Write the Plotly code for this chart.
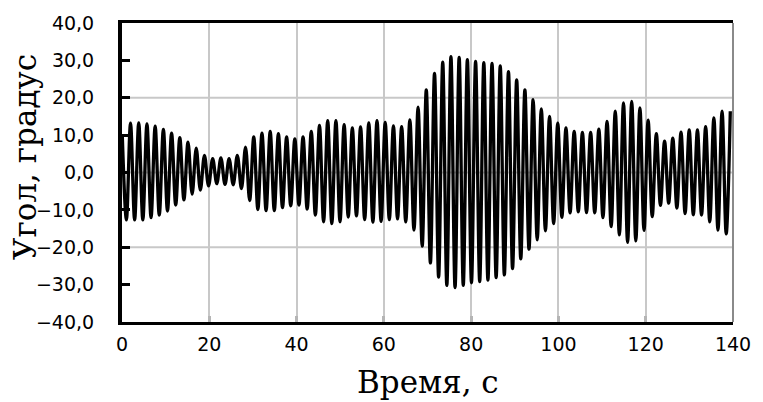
import plotly.graph_objects as go

# ---- data -------------------------------------------------------------
period = 1.8826          # s, oscillation period
first_peak_time = 1.95   # s, time of first full positive peak
lead_value = 10.0        # value of the partial peak at the very start

peak_vals = [
    13.2, 13.3, 13.0, 12.4, 11.5, 10.5, 9.3, 8.1, 6.5, 4.6, 3.7, 3.9, 3.7, 4.6, 6.8, 9.5, 10.5, 11.0, 10.4, 9.5, 9.0, 9.5, 11.0, 12.6,
    13.9, 13.9, 12.8, 11.9, 12.2, 13.3, 13.9, 13.4, 12.5, 12.3, 14.1, 17.5, 22.1, 26.5, 29.5, 31.0, 30.8, 30.2, 29.7, 29.4,
    29.2, 28.5, 27.0, 24.8, 22.1, 19.5, 17.0, 15.0, 13.2, 11.9, 11.0, 10.7, 10.7, 11.6, 13.7, 16.4, 18.6, 19.0, 17.3, 14.0,
    10.4, 8.4, 9.2, 10.8, 11.4, 11.4, 12.3, 14.6, 16.4, 16.4,
]
trough_vals = [
    -12.7, -12.7, -12.7, -12.1, -11.4, -10.3, -8.7, -7.3, -5.8, -4.7, -3.6, -3.0, -3.2, -3.3, -4.3, -7.5, -9.9, -10.2, -10.2, -9.4, -8.9, -8.7, -9.8, -11.4,
    -13.2, -13.7, -13.2, -11.9, -11.6, -12.6, -13.3, -13.1, -12.6, -12.4, -13.2, -15.4, -19.7, -24.2, -28.0, -30.2, -30.8, -30.2, -29.5, -29.2,
    -28.8, -28.1, -27.4, -25.7, -23.1, -20.5, -18.0, -15.6, -13.7, -12.0, -10.8, -10.5, -10.7, -10.8, -12.1, -14.5, -16.7, -18.7, -18.3, -15.5,
    -11.8, -8.8, -8.2, -9.5, -11.0, -11.3, -11.4, -13.2, -15.4, -16.4,
]

x_ticks = [0, 20, 40, 60, 80, 100, 120, 140]
y_ticks = [-40, -30, -20, -10, 0, 10, 20, 30, 40]
y_grid = [-20, 0, 20]

x_title = "Время, с"
y_title = "Угол, градус"

# ---- build the oscillation from its extremes ---------------------------
t = [first_peak_time - period]
v = [lead_value]
for k, (pk, tr) in enumerate(zip(peak_vals, trough_vals)):
    tp = first_peak_time + k * period
    t.append(tp - period / 2)
    v.append(tr)
    t.append(tp)
    v.append(pk)

fig = go.Figure()
fig.add_trace(go.Scatter(
    x=t, y=v, mode="lines",
    line=dict(color="black", width=3.3, shape="spline", smoothing=1.0),
    hoverinfo="skip",
))

tick_font = dict(family="DejaVu Sans", size=19, color="black")
title_font = dict(family="DejaVu Serif", size=31, color="black")

fig.update_layout(
    width=763, height=402,
    margin=dict(l=122, r=21, t=22, b=80),
    plot_bgcolor="white", paper_bgcolor="white",
    showlegend=False,
    separators=", ",
    xaxis=dict(
        range=[0, 140], tickmode="array", tickvals=x_ticks,
        ticktext=[str(x) for x in x_ticks],
        showgrid=True, gridcolor="#c8c8c8", gridwidth=2,
        ticks="inside", ticklen=6, tickwidth=3, tickcolor="#b5b5b5",
        showline=True, linecolor="black", linewidth=3, mirror=True,
        zeroline=False, tickfont=tick_font, ticklabelstandoff=3,
    ),
    yaxis=dict(
        range=[-40, 40], tickmode="array", tickvals=y_ticks,
        tickformat=".1f",
        showgrid=False,
        ticks="inside", ticklen=8, tickwidth=3, tickcolor="black",
        showline=True, linecolor="black", linewidth=4, mirror=False,
        zeroline=False, tickfont=tick_font, ticklabelstandoff=20,
    ),
)

for g in y_grid:
    fig.add_shape(type="line", xref="paper", x0=0, x1=1, yref="y", y0=g, y1=g,
                  line=dict(color="#c8c8c8", width=2), layer="below")
fig.add_shape(type="line", xref="paper", x0=1, x1=1, yref="paper", y0=0, y1=1,
              line=dict(color="#8a8a8a", width=2), layer="above")

fig.add_annotation(text=y_title, xref="paper", yref="paper", x=-0.16, y=0.553,
                   textangle=-90, showarrow=False, font=title_font,
                   xanchor="center", yanchor="middle")
fig.add_annotation(text=x_title, xref="paper", yref="paper", x=0.5, y=-0.2,
                   showarrow=False, font=title_font,
                   xanchor="center", yanchor="middle")

fig.write_html("out.html")
